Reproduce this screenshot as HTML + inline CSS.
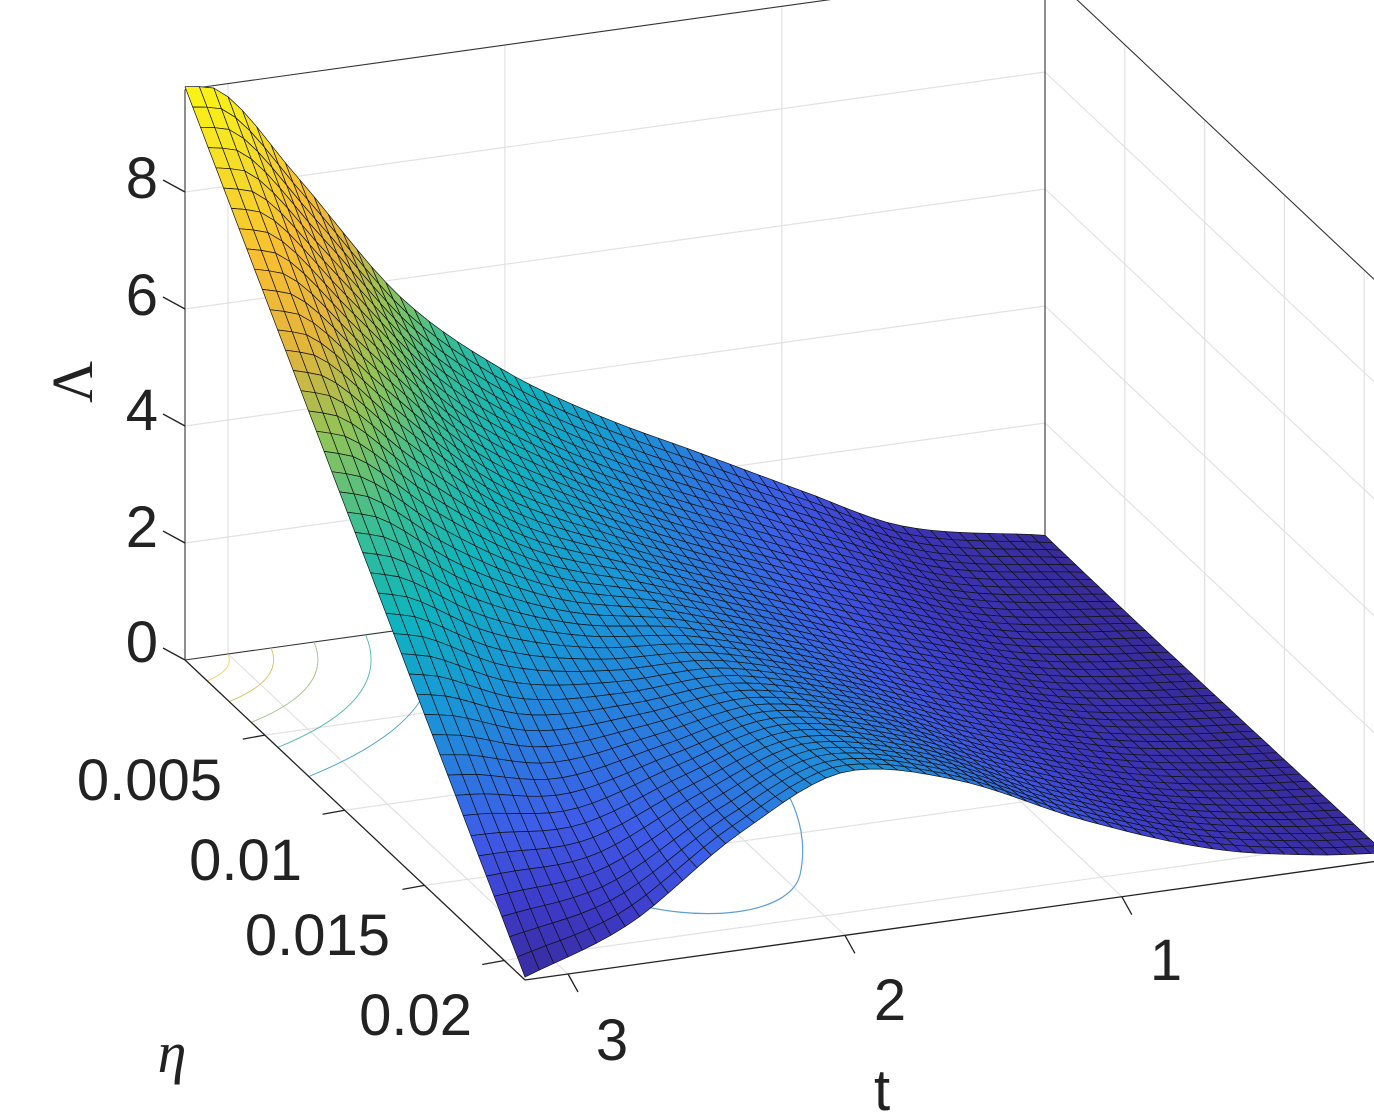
<!DOCTYPE html>
<html><head><meta charset="utf-8"><style>
html,body{margin:0;padding:0;background:#fff}
svg{display:block}
text{font-family:"Liberation Sans",sans-serif;fill:#222}
</style></head><body>
<svg id="s" width="1374" height="1116" viewBox="0 0 1374 1116" xmlns="http://www.w3.org/2000/svg">
<g id="back" stroke="#e2e2e2" stroke-width="1.2" fill="none"></g>
<g id="surf" stroke="#111" stroke-width="0.7" stroke-linejoin="round"></g>
<g id="front" stroke="#222" stroke-width="1.3" fill="none"></g>
<g font-size="58">
<text x="158" y="198" text-anchor="end">8</text>
<text x="158" y="315" text-anchor="end">6</text>
<text x="158" y="430" text-anchor="end">4</text>
<text x="158" y="547" text-anchor="end">2</text>
<text x="158" y="662" text-anchor="end">0</text>
<text x="222" y="800" text-anchor="end">0.005</text>
<text x="302" y="880" text-anchor="end">0.01</text>
<text x="390" y="955" text-anchor="end">0.015</text>
<text x="472" y="1035" text-anchor="end">0.02</text>
<text x="612" y="1060" text-anchor="middle">3</text>
<text x="890" y="1020" text-anchor="middle">2</text>
<text x="1166" y="980" text-anchor="middle">1</text>
<text x="882" y="1110" text-anchor="middle">t</text>
<text x="0" y="0" transform="translate(92,382) rotate(-90)" text-anchor="middle" style="font-family:'Liberation Serif',serif">Λ</text>
<text x="172" y="1072" text-anchor="middle" style="font-family:'Liberation Serif',serif;font-style:italic">η</text>
</g>
</svg>
<script>
var Ox=185,Oy=660,Ux=340,Uy=320,Vx=860,Vy=-120,Z=58.5;
function P(u,v,z){return [Ox+Ux*u+Vx*v, Oy+Uy*u+Vy*v-Z*z];}
function mk(pts){var n=pts.length,x=pts.map(function(p){return p[0]}),y=pts.map(function(p){return p[1]}),d=[],m=[];
for(var i=0;i<n-1;i++)d.push((y[i+1]-y[i])/(x[i+1]-x[i]));
m[0]=d[0];m[n-1]=d[n-2];for(i=1;i<n-1;i++){m[i]=(d[i-1]*d[i]<=0)?0:(d[i-1]+d[i])/2;}
return function(t){for(var i=0;i<n-1;i++){if(t<=x[i+1]||i==n-2){var h=x[i+1]-x[i],s=(t-x[i])/h,s2=s*s,s3=s2*s;
return (2*s3-3*s2+1)*y[i]+(s3-2*s2+s)*h*m[i]+(-2*s3+3*s2)*y[i+1]+(s3-s2)*h*m[i+1];}}};}
var A=mk([[0,9.8],[0.04,9.65],[0.13,8.0],[0.25,5.7],[0.37,4.2],[0.48,3.2],[0.6,2.3],[0.72,1.4],[0.83,0.6],[1,0.08]]);
var B=mk([[0,0.05],[0.12,0.7],[0.25,2.0],[0.38,2.8],[0.5,2.4],[0.65,1.4],[0.8,0.6],[0.92,0.25],[1,0.12]]);
function L(u,v){var w=Math.pow(1-u,1+0.9*Math.sin(Math.PI*Math.min(v,1)*0.5));return w*A(v)+(1-w)*B(v)*Math.pow(u,0.6);}
var C=[[0,[55,42,150]],[0.08,[62,58,200]],[0.16,[62,92,232]],[0.3,[25,150,215]],[0.4,[15,180,190]],[0.5,[55,190,150]],[0.6,[140,195,90]],[0.7,[225,180,60]],[0.8,[248,190,50]],[0.9,[245,220,40]],[1,[249,245,20]]];
function col(z){var f=Math.max(0,Math.min(1,z/9.8));for(var i=1;i<C.length;i++){if(f<=C[i][0]){var a=C[i-1],b=C[i],t=(f-a[0])/(b[0]-a[0]);return 'rgb('+[0,1,2].map(function(k){return Math.round(a[1][k]+(b[1][k]-a[1][k])*t)}).join(',')+')';}}return 'rgb(249,245,20)';}
var ns='http://www.w3.org/2000/svg';
function line(g,a,b){var l=document.createElementNS(ns,'line');l.setAttribute('x1',a[0]);l.setAttribute('y1',a[1]);l.setAttribute('x2',b[0]);l.setAttribute('y2',b[1]);g.appendChild(l);}
var back=document.getElementById('back'),front=document.getElementById('front'),surf=document.getElementById('surf');
var zt=9.75;
function vt(t){return 0.05+(3-t)*0.322;}
function ue(e){return e/0.0213;}
[2,4,6,8].forEach(function(z){line(back,P(0,0,z),P(0,1,z));line(back,P(0,1,z),P(1,1,z));});
[3,2,1].forEach(function(t){var v=vt(t);line(back,P(0,v,0),P(0,v,zt));line(back,P(0,v,0),P(1,v,0));});
[0.005,0.01,0.015,0.02].forEach(function(e){var u=ue(e);line(back,P(u,1,0),P(u,1,zt));line(back,P(u,0,0),P(u,1,0));});
var bl=document.createElementNS(ns,'g');bl.setAttribute('stroke','#333');bl.setAttribute('stroke-width','1.1');back.appendChild(bl);
line(bl,P(0,0,0),P(0,0,zt));line(bl,P(0,0,zt),P(0,1,zt));line(bl,P(0,1,0),P(0,1,zt));line(bl,P(0,1,zt),P(1,1,zt));
line(bl,P(0,0,0),P(0,1,0));line(bl,P(0,1,0),P(1,1,0));
var cp=document.createElementNS(ns,'path');cp.setAttribute('d','M620,900 C700,925 790,915 800,875 C810,830 790,790 770,770');cp.setAttribute('stroke','#5aa0d0');cp.setAttribute('fill','none');back.appendChild(cp);
var cols=['#f0d060','#d8c060','#a0c080','#50b8b0','#40a0d0'];
[0.05,0.1,0.15,0.21,0.28].forEach(function(r,i){var p=document.createElementNS(ns,'path');var a=P(0,r,0),b=P(r*1.3,0,0),c=P(r*0.9,r*0.8,0);p.setAttribute('d','M'+a+' Q'+c+' '+b);p.setAttribute('stroke',cols[i]);p.setAttribute('fill','none');p.setAttribute('stroke-width','0.9');back.appendChild(p);});
var NU=44,NV=60,q=[];
for(var i=0;i<NU;i++)for(var j=0;j<NV;j++){
 var u0=i/NU,u1=(i+1)/NU,v0=j/NV,v1=(j+1)/NV;
 var z00=L(u0,v0),z10=L(u1,v0),z11=L(u1,v1),z01=L(u0,v1);
 var pts=[P(u0,v0,z00),P(u1,v0,z10),P(u1,v1,z11),P(u0,v1,z01)];
 var zm=(z00+z10+z11+z01)/4;
 q.push({d:Oy+Uy*(u0+u1)/2+Vy*(v0+v1)/2,p:pts,c:col(zm)});
}
q.sort(function(a,b){return a.d-b.d;});
var html='';
q.forEach(function(o){html+='<polygon points="'+o.p.map(function(p){return p[0].toFixed(1)+','+p[1].toFixed(1)}).join(' ')+'" fill="'+o.c+'"/>';});
surf.innerHTML=html;
line(front,P(0,0,0),P(1,0,0));line(front,P(1,0,0),P(1,1,0));
[0,2,4,6,8].forEach(function(z){var a=P(0,0,z);line(front,a,[a[0]-22,a[1]-12]);});
[0.005,0.01,0.015,0.02].forEach(function(e){var a=P(ue(e),0,0);line(front,a,[a[0]-22,a[1]+4]);});
[3,2,1].forEach(function(t){var a=P(1,vt(t),0);line(front,a,[a[0]+10,a[1]+18]);});
</script>
</body></html>
